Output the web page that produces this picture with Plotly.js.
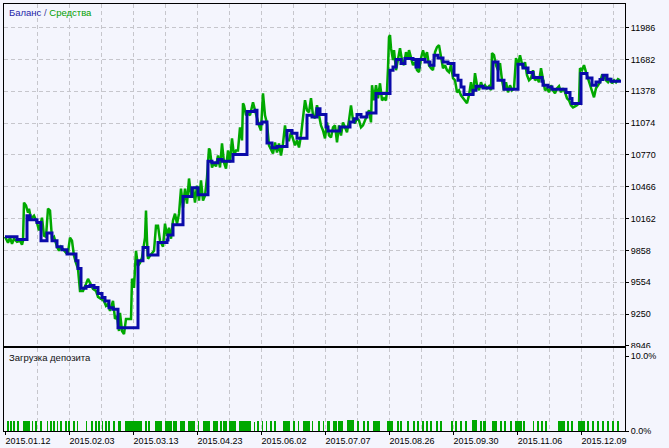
<!DOCTYPE html>
<html><head><meta charset="utf-8">
<script src="https://cdn.plot.ly/plotly-3.0.1.min.js"></script>
<style>html,body{margin:0;padding:0;background:#F4F5FD;}</style>
</head><body>
<div id="chart" style="width:669px;height:448px"></div>
<script>
// x = trade/time index along the tester timeline
const tickIdx = [0,64,128,192,256,320,384,448,512,576];
const tickLabels = ['2015.01.12','2015.02.03','2015.03.13','2015.04.23','2015.06.02','2015.07.07','2015.08.26','2015.09.30','2015.11.06','2015.12.09'];

// Balance (step line)
const balIdx = [0,12,22,25,32,36,42,47,52,57,62,71,73,76,81,85,89,93,97,100,104,108,113,133,138,143,153,162,163,168,178,187,193,203,207,213,217,228,242,250,252,257,262,267,272,282,287,292,302,307,312,315,321,323,335,345,349,352,356,362,371,385,388,391,396,400,408,411,414,420,425,429,433,438,443,449,453,456,459,468,471,478,488,493,499,513,518,523,528,537,538,543,547,561,565,567,576,582,587,591,595,598,602,606,616];
const balVal = [9989,9963,10190,10152,10126,9951,10025,9951,9894,9865,9824,9760,9686,9498,9513,9523,9504,9446,9408,9376,9312,9297,9121,9760,9887,9814,9935,9958,10006,10104,10372,10456,10389,10710,10695,10727,10710,10774,11185,11196,11068,11084,10883,10839,10851,11004,10978,10930,11148,11132,11212,11155,11036,10998,11036,11084,11116,11157,11132,11170,11356,11579,11610,11681,11643,11691,11681,11610,11681,11658,11627,11722,11696,11658,11643,11531,11483,11419,11346,11387,11426,11409,11658,11483,11397,11636,11601,11557,11509,11473,11435,11419,11397,11365,11308,11260,11547,11505,11435,11467,11490,11531,11493,11473,11473];

// Equity
const eqIdx = [0,3,5,7,9,12,15,17,18,19,21,23,24,26,29,32,34,36,37,39,41,43,45,47,49,52,54,56,58,61,63,65,67,69,71,73,75,78,81,83,85,88,91,93,96,99,101,103,105,108,110,112,114,115,117,119,121,126,127,128,129,130,131,132,133,135,137,140,141,142,143,145,147,149,151,153,155,158,160,162,164,166,168,170,172,174,176,178,180,182,184,186,188,190,192,194,196,198,200,202,204,205,207,209,211,213,215,217,219,221,223,225,227,229,231,233,235,237,238,239,241,243,245,248,250,252,254,256,258,260,262,264,266,268,270,272,274,276,278,280,282,284,286,288,290,292,294,296,298,300,302,304,306,308,310,312,314,316,318,320,322,324,326,328,330,332,334,336,338,340,342,344,346,348,350,352,354,356,358,360,362,364,366,367,369,371,373,375,377,379,381,382,383,384,385,386,388,389,391,393,395,397,399,401,403,404,406,408,410,412,414,416,418,420,422,424,426,428,430,432,434,436,438,440,442,444,446,448,450,452,454,456,458,460,462,464,466,468,470,472,474,476,478,480,482,484,486,487,489,491,493,495,497,499,501,503,505,507,509,511,513,515,518,520,522,524,526,528,530,532,534,536,538,540,542,544,546,548,550,552,554,556,558,560,562,564,566,568,570,572,574,575,577,579,581,583,585,587,589,591,593,595,597,599,601,603,605,607,609,611,613,615];
const eqVal = [9989,9932,9980,9922,9970,9941,9951,9913,9951,10315,10286,10219,10257,10162,10190,10123,10048,10123,10171,9999,9989,10257,10238,9970,9989,9894,9855,9894,9874,9836,9836,9980,9951,9807,9740,9683,9472,9472,9539,9587,9549,9491,9472,9415,9396,9376,9329,9348,9281,9376,9204,9233,9089,9262,9089,9060,9204,9204,9587,9568,9501,9692,9855,9779,9712,9740,9788,9980,10238,9951,9779,9807,9827,9855,10095,10095,9951,9894,10114,9999,10075,9970,10143,10209,10114,10209,10449,10267,10449,10305,10545,10382,10458,10315,10477,10334,10526,10334,10382,10554,10832,10813,10650,10698,10660,10765,10650,10880,10698,10640,10813,10698,10928,10765,10813,10813,11033,10909,11263,11244,11148,11167,11148,11272,11196,11119,11052,11004,11359,11148,11071,10861,10813,10784,10889,10794,10880,10765,10880,11052,10909,10909,10985,10928,10861,10909,10841,10956,11119,11292,11196,11177,11311,11148,11119,11244,11148,11052,11004,10928,11081,10956,10937,11033,11052,10889,11052,10956,11081,11023,10985,11100,11244,11100,11071,11119,11100,11033,11052,11100,11148,11196,11081,11435,11292,11435,11311,11454,11292,11311,11292,11387,11598,11895,11914,11789,11675,11770,11579,11675,11789,11675,11627,11751,11694,11770,11694,11627,11655,11579,11560,11694,11770,11694,11751,11627,11598,11579,11751,11799,11818,11694,11598,11627,11579,11560,11627,11502,11483,11368,11387,11339,11311,11292,11263,11339,11464,11339,11550,11435,11387,11464,11406,11435,11406,11426,11387,11742,11722,11627,11579,11646,11483,11387,11464,11368,11435,11387,11406,11694,11627,11722,11598,11655,11531,11483,11502,11579,11483,11502,11464,11598,11483,11387,11406,11368,11435,11387,11359,11406,11426,11368,11406,11368,11311,11292,11244,11224,11234,11244,11263,11598,11579,11627,11560,11502,11435,11387,11320,11406,11435,11464,11531,11531,11483,11464,11502,11454,11483,11464,11493,11483];

// Deposit load periods (open/close index) and load in %
const loadStart = [2,5,8,12,18,27,30,35,42,45,48,52,55,60,63,68,72,81,86,90,93,97,100,103,108,113,120,140,143,150,160,168,175,183,193,198,208,215,218,224,234,249,252,257,261,265,269,278,288,293,298,307,313,318,322,328,333,342,352,358,362,368,382,392,395,402,408,412,417,421,425,431,435,446,450,455,460,467,475,478,487,495,499,505,510,518,528,532,536,540,553,562,566,573,582,587,592,597,602,607,612];
const loadEnd = [4,7,10,14,25,28,32,37,43,47,50,53,57,62,65,70,73,82,88,92,95,98,102,105,110,116,137,142,145,157,167,172,180,190,194,205,213,217,222,231,246,250,254,258,262,267,271,285,290,294,305,308,315,319,325,332,338,349,354,360,364,375,388,394,397,404,410,414,419,423,427,433,437,448,452,457,462,472,477,481,492,497,501,507,517,520,529,534,538,542,560,564,568,580,584,589,594,599,604,609,614];
const loadPct = [1.3,1.3,1.3,1.3,1.3,1.3,1.3,1.3,1.3,1.3,1.3,1.3,1.3,1.3,1.3,1.3,1.3,1.3,1.3,1.3,1.3,1.3,1.3,1.3,1.3,1.3,1.4,1.3,1.3,1.3,1.3,1.3,1.3,1.3,1.3,1.3,1.3,1.3,1.3,1.3,1.3,1.2,1.3,1.3,1.3,1.3,1.3,1.3,1.3,1.3,1.3,1.3,1.3,1.3,1.3,1.3,1.3,1.5,1.3,1.3,1.3,1.3,1.3,1.3,1.3,1.3,1.3,1.3,1.3,1.3,1.3,1.3,1.3,1.3,1.3,1.3,1.3,1.5,1.3,1.3,1.3,1.3,1.3,1.3,1.3,1.3,1.3,1.3,1.3,1.3,1.3,1.3,1.3,1.3,1.3,1.3,1.3,1.3,1.3,1.3,1.3];

const BG = '#F4F5FD';
const GRID = '#C6C6CC';
const FONT = 'Liberation Sans, Arial, sans-serif';

const loadMid = loadStart.map((s,i)=> (s + loadEnd[i]) / 2);
const loadW = loadStart.map((s,i)=> loadEnd[i] - s);

const traces = [
  {x: eqIdx, y: eqVal, type:'scatter', mode:'lines', xaxis:'x2', yaxis:'y',
   line:{color:'#00A800', width:2.5}, hoverinfo:'skip'},
  {x: balIdx, y: balVal, type:'scatter', mode:'lines', xaxis:'x2', yaxis:'y',
   line:{color:'#0A0AAA', width:3, shape:'hv'}, hoverinfo:'skip'},
  {x: loadMid, y: loadPct, width: loadW, type:'bar', xaxis:'x', yaxis:'y2',
   marker:{color:'#00A800', line:{width:0}}, hoverinfo:'skip'}
];

const axisCommon = {
  showline:true, linecolor:'#000', linewidth:1, mirror:true, zeroline:false,
  tickfont:{family:FONT, size:9, color:'#000'}
};

const layout = {
  width:669, height:448,
  margin:{l:4, r:44, t:4, b:17, pad:0},
  paper_bgcolor:BG, plot_bgcolor:BG,
  showlegend:false, bargap:0,
  font:{family:FONT, size:9, color:'#000'},
  xaxis: Object.assign({}, axisCommon, {
    anchor:'y2', range:[-1,620], tickmode:'array', tickvals:tickIdx, ticktext:tickLabels,
    ticks:'outside', ticklen:3, tickcolor:'#000', ticklabelshift:23, ticklabelstandoff:-2,
    showgrid:true, gridcolor:GRID, griddash:'4px,3px', gridwidth:1,
    minor:{tickmode:'linear', tick0:0, dtick:32, showgrid:true, gridcolor:GRID, griddash:'4px,3px', ticks:''}
  }),
  xaxis2: Object.assign({}, axisCommon, {
    anchor:'y', matches:'x', range:[-1,620], showticklabels:false, ticks:'',
    tickmode:'array', tickvals:tickIdx,
    showgrid:true, gridcolor:GRID, griddash:'4px,3px', gridwidth:1,
    minor:{tickmode:'linear', tick0:0, dtick:32, showgrid:true, gridcolor:GRID, griddash:'4px,3px', ticks:''}
  }),
  yaxis: Object.assign({}, axisCommon, {
    anchor:'x2', domain:[0.1991,1], side:'right', range:[8946,12211],
    tickmode:'linear', tick0:8946, dtick:304, tickformat:'d', ticks:'outside', ticklen:3, tickcolor:'#000',
    showgrid:true, gridcolor:GRID, griddash:'4px,3px', gridwidth:1
  }),
  yaxis2: Object.assign({}, axisCommon, {
    anchor:'x', domain:[0,0.1944], side:'right', range:[0,11.07],
    tickmode:'array', tickvals:[0,10], ticktext:['0.0%','10.0%'],
    ticks:'outside', ticklen:3, tickcolor:'#000', showgrid:false
  }),
  shapes:[
    // lower panel covers the bottom half of the last balance label, as in the tester report
    {type:'rect', xref:'paper', yref:'paper', x0:1.0025, x1:1.075, y0:0.1880, y1:0.1944,
     fillcolor:BG, line:{width:0}, layer:'above'}
  ],
  annotations:[
    {xref:'paper', yref:'paper', x:0.005, y:0.979, xanchor:'left', yanchor:'middle', showarrow:false,
     text:'<span style="color:#1E1EA8">Баланс</span><span style="color:#3C3C9C"> / </span><span style="color:#00A000">Средства</span>',
     font:{family:FONT, size:9.5}},
    {xref:'paper', yref:'paper', x:0.005, y:0.173, xanchor:'left', yanchor:'middle', showarrow:false,
     text:'Загрузка депозита', font:{family:FONT, size:9.5, color:'#111'}}
  ]
};

Plotly.newPlot('chart', traces, layout, {staticPlot:true, displayModeBar:false});
</script>
</body></html>
